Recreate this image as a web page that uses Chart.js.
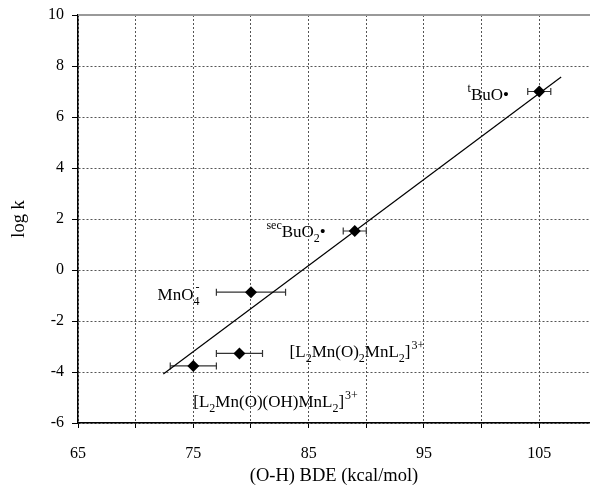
<!DOCTYPE html>
<html><head><meta charset="utf-8">
<script src="https://cdn.jsdelivr.net/npm/chart.js@4.4.0/dist/chart.umd.min.js"></script>
<style>html,body{margin:0;padding:0;background:#fff}#wrap{width:590px;height:485px}</style>
</head><body><div id="wrap"><canvas id="c" width="590" height="485"></canvas></div>
<script>
// ---- data ----
const compounds = ["tBuO", "secBuO2", "MnO4-", "L2Mn(O)2MnL2", "L2Mn(O)(OH)MnL2"];
const bde = [105, 89, 80, 79, 75];
const logk = [7.0, 1.53, -0.87, -3.27, -3.76];
const bdeLow = [104, 88, 77, 77, 73];
const bdeHigh = [106, 90, 83, 81, 77];
const fitX = [72.4, 106.9];
const fitY = [-4.08, 7.57];
const xTickValues = [65, 70, 75, 80, 85, 90, 95, 100, 105];
const xLabelled = [65, 75, 85, 95, 105];
const yTickValues = [-6, -4, -2, 0, 2, 4, 6, 8, 10];
const labelX = [98.7, 81.25, 71.9, 83.35, 75.0];
const labelY = [6.67, 1.31, -1.18, -3.40, -5.36];
const labelParts = [
  [["t","sup"],["BuO",""],["•",""]],
  [["sec","sup"],["BuO",""],["2","sub"],["•",""]],
  [["MnO",""],["4","sub"],["-","sup4"]],
  [["[L",""],["2","sub"],["Mn(O)",""],["2","sub"],["MnL",""],["2","sub"],["]",""],["3+","sup"]],
  [["[L",""],["2","sub"],["Mn(O)(OH)MnL",""],["2","sub"],["]",""],["3+","sup"]]
];

const SERIF = '"Liberation Serif", "Times New Roman", serif';

const errorBars = {
  id: 'errorBars',
  beforeDatasetsDraw(chart) {
    const {ctx, scales: {x, y}} = chart;
    ctx.save();
    ctx.strokeStyle = '#333';
    ctx.lineWidth = 1.2;
    for (let i = 0; i < bde.length; i++) {
      const py = y.getPixelForValue(logk[i]);
      const x1 = x.getPixelForValue(bdeLow[i]);
      const x2 = x.getPixelForValue(bdeHigh[i]);
      ctx.beginPath();
      ctx.moveTo(x1, py); ctx.lineTo(x2, py);
      ctx.moveTo(x1, py - 3.5); ctx.lineTo(x1, py + 3.5);
      ctx.moveTo(x2, py - 3.5); ctx.lineTo(x2, py + 3.5);
      ctx.stroke();
    }
    ctx.restore();
  }
};

const richLabels = {
  id: 'richLabels',
  afterDatasetsDraw(chart) {
    const {ctx, scales: {x, y}} = chart;
    ctx.save();
    ctx.fillStyle = '#000';
    ctx.textBaseline = 'alphabetic';
    ctx.textAlign = 'left';
    for (let i = 0; i < labelParts.length; i++) {
      let px = x.getPixelForValue(labelX[i]);
      const py = y.getPixelForValue(labelY[i]);
      for (const [t, k] of labelParts[i]) {
        if (k === '') {
          ctx.font = '17px ' + SERIF;
          ctx.fillText(t, px, py);
          px += ctx.measureText(t).width;
        } else if (k === 'sub') {
          ctx.font = '12px ' + SERIF;
          ctx.fillText(t, px, py + 5);
          px += ctx.measureText(t).width;
        } else if (k === 'sup') {
          ctx.font = '12px ' + SERIF;
          ctx.fillText(t, px + 1, py - 8);
          px += ctx.measureText(t).width + 1;
        } else if (k === 'sup4') {
          ctx.font = '12px ' + SERIF;
          ctx.fillText(t, px - 4, py - 9);
        }
      }
    }
    ctx.restore();
  }
};

const topFrame = {
  id: 'topFrame',
  afterDraw(chart) {
    const {ctx, chartArea: a} = chart;
    ctx.save();
    ctx.strokeStyle = '#999';
    ctx.lineWidth = 2;
    ctx.beginPath();
    ctx.moveTo(a.left, a.top); ctx.lineTo(a.right, a.top);
    ctx.stroke();
    ctx.restore();
  }
};

new Chart(document.getElementById('c'), {
  type: 'scatter',
  data: {
    datasets: [
      {
        label: 'fit',
        data: fitX.map((v, i) => ({x: v, y: fitY[i]})),
        showLine: true,
        borderColor: '#000',
        borderWidth: 1.2,
        pointRadius: 0,
        fill: false
      },
      {
        label: 'data',
        data: bde.map((v, i) => ({x: v, y: logk[i]})),
        pointStyle: 'rectRot',
        pointRadius: 6,
        pointHoverRadius: 6,
        backgroundColor: '#000',
        borderColor: '#000',
        borderWidth: 0
      }
    ]
  },
  options: {
    responsive: false,
    animation: false,
    devicePixelRatio: 1,
    layout: {autoPadding: false, padding: {top: 15, right: 0, left: 0, bottom: 0}},
    plugins: {legend: {display: false}, tooltip: {enabled: false}},
    scales: {
      x: {
        type: 'linear',
        min: 65, max: 109.4,
        afterBuildTicks(s) { s.ticks = xTickValues.map(v => ({value: v})); },
        afterFit(s) { s.height = 62; s.paddingRight = 0; s.paddingLeft = 0; },
        ticks: {
          color: '#000',
          font: {family: SERIF, size: 16},
          padding: 16,
          maxRotation: 0,
          autoSkip: false,
          callback: v => xLabelled.includes(v) ? String(v) : ''
        },
        grid: {
          color: '#555',
          lineWidth: 1,
          tickColor: '#000',
          tickLength: 5,
          tickBorderDash: []
        },
        border: {color: '#000', width: 1.5, dash: [2, 2]},
        title: {
          display: true,
          text: '(O-H) BDE (kcal/mol)',
          color: '#000',
          font: {family: SERIF, size: 18.5},
          padding: {top: 0, bottom: -2}
        }
      },
      y: {
        type: 'linear',
        min: -6, max: 10,
        afterBuildTicks(s) { s.ticks = yTickValues.map(v => ({value: v})); },
        afterFit(s) { s.width = 78; s.paddingTop = 0; s.paddingBottom = 0; },
        ticks: {
          color: '#000',
          font: {family: SERIF, size: 16},
          padding: 8,
          autoSkip: false
        },
        grid: {
          color: '#555',
          lineWidth: 1,
          tickColor: '#000',
          tickLength: 6,
          tickBorderDash: []
        },
        border: {color: '#000', width: 1.5, dash: [2, 2]},
        title: {
          display: true,
          text: 'log k',
          color: '#000',
          font: {family: SERIF, size: 18.5},
          padding: {top: 8, bottom: 0}
        }
      }
    }
  },
  plugins: [errorBars, richLabels, topFrame]
});
</script></body></html>
